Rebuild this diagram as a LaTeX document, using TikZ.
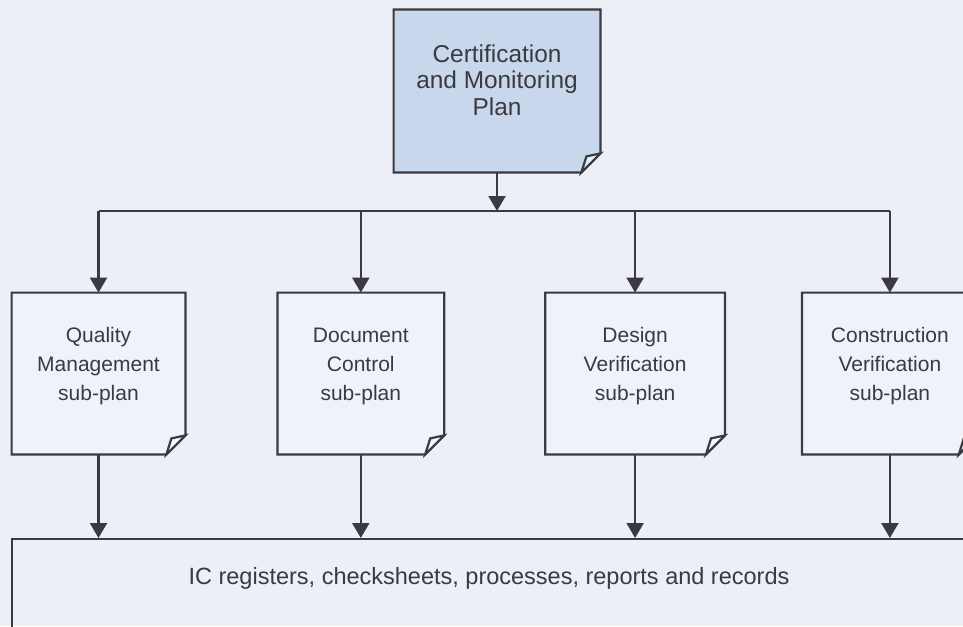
\documentclass[tikz,border=0pt]{standalone}
\usepackage{fontspec}
\setmainfont{Liberation Sans}
\usetikzlibrary{arrows.meta,backgrounds,positioning}

\definecolor{paper}{RGB}{236,239,246}
\definecolor{notefill}{RGB}{240,242,249}
\definecolor{planblue}{RGB}{200,215,235}
\definecolor{ink}{RGB}{58,58,64}

\begin{document}
\begin{tikzpicture}[
      x=0.5pt, y=-0.5pt,
      note/.style={rectangle,inner sep=0pt,minimum width=86.5pt,minimum height=80.5pt},
      notetext/.style={align=center,text=ink,font=\fontsize{10.5pt}{14.5pt}\selectfont},
      outline/.style={draw=ink,line width=1.1pt,line join=miter},
      arrow/.style={-{Triangle[length=7.5pt,width=8.5pt]},draw=ink,fill=ink,line width=1.1pt},
      line/.style={draw=ink,line width=1.1pt}
    ]
    \useasboundingbox (0,0) rectangle (963,626);
    \clip (0,0) rectangle (963,626);
    \node[note,minimum width=103pt,minimum height=81pt,
      label={[name=cmp-t,notetext,font=\fontsize{12.2pt}{13.3pt}\selectfont,yshift=5.5pt]center:Certification\\and Monitoring\\Plan}]
      (cmp) at (497,91) {};
    \node[note,label={[name=qm-t,notetext,yshift=3.5pt]center:Quality\\Management\\sub-plan}]
      (qm) at (98.5,373.5) {};
    \node[note,minimum width=83pt,right=46pt of qm,
      label={[name=dc-t,notetext,yshift=3.5pt]center:Document\\Control\\sub-plan}] (dc) {};
    \node[note,minimum width=89.5pt,right=50.5pt of dc,
      label={[name=dv-t,notetext,yshift=3.5pt]center:Design\\Verification\\sub-plan}] (dv) {};
    \node[note,minimum width=87.5pt,right=38.5pt of dv,
      label={[name=cv-t,notetext,yshift=3.5pt]center:Construction\\Verification\\sub-plan}] (cv) {};
    \node[rectangle,draw=ink,line width=1.1pt,minimum width=477pt,minimum height=100pt,anchor=north,
      label={[name=ic-t,notetext,font=\fontsize{11.75pt}{14pt}\selectfont,yshift=30.5pt]center:IC registers, checksheets, processes, reports and records}]
      (ic) at (489,538) {};
    \coordinate (bus) at (497,211);

    \draw[arrow] (cmp) -- (bus);
    \draw[line] (qm |- bus) -- (cv |- bus);
    \foreach \n in {qm,dc,dv,cv}{
      \draw[arrow] (\n |- bus) -- (\n);
      \draw[arrow] (\n) -- (\n |- ic.north);
    }

    % note shapes with the turned-down corner
    \begin{scope}[on background layer]
      \clip (0,0) rectangle (963,626);
      \fill[paper] (0,0) rectangle (963,626);
      \foreach \n/\c in {cmp/planblue,qm/notefill,dc/notefill,dv/notefill,cv/notefill}{
        \filldraw[outline,fill=\c] (\n.north west) -- (\n.north east) -- ([yshift=9.5pt]\n.south east)
          -- ([xshift=-9.5pt]\n.south east) -- (\n.south west) -- cycle;
        \filldraw[outline,fill=white!55!\c] ([yshift=9.5pt]\n.south east) -- ([xshift=-7pt,yshift=8pt]\n.south east)
          -- ([xshift=-9.5pt]\n.south east) -- cycle;
      }
    \end{scope}
  \end{tikzpicture}
\end{document}
